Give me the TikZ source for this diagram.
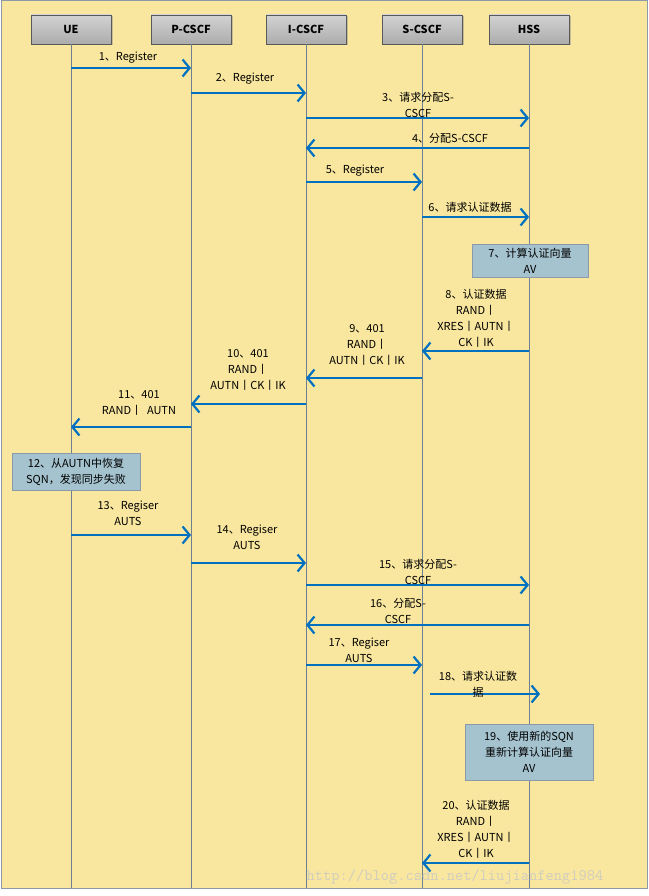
\documentclass[tikz,border=0pt]{standalone}
\usepackage{fontspec}
\setmainfont{Noto Sans CJK SC}
\usetikzlibrary{arrows.meta,shadows}
\definecolor{bg}{HTML}{F9E79F}
\definecolor{msgblue}{HTML}{0070C0}
\definecolor{boxblue}{HTML}{A5C3CF}
\definecolor{lifegray}{HTML}{6F7F92}
\tikzset{
  msg/.style={draw=msgblue,line width=2.6pt,-{Straight Barb[length=7pt,width=17pt,line width=2.2pt]}},
  lab/.style={font=\fontsize{11}{16}\selectfont,align=center,inner sep=0pt},
  head/.style={draw=gray!70!black,top color=gray!35,bottom color=gray!65,minimum width=80pt,minimum height=29pt,font=\bfseries\fontsize{11}{13}\selectfont,drop shadow={shadow xshift=1.5pt,shadow yshift=-1.5pt,opacity=0.4}},
  note/.style={draw=lifegray!80,fill=boxblue,align=center,font=\fontsize{11}{16}\selectfont,inner sep=2pt},
  life/.style={draw=lifegray,line width=0.6pt}
}
\begin{document}
\begin{tikzpicture}[x=1pt,y=-1pt]
\useasboundingbox (0,0) rectangle (648,896);
\fill[white] (0,0) rectangle (648,896);
\draw[fill=bg,draw=lifegray!80,line width=1pt] (1,1) rectangle (647,888);
\foreach \n/\x/\t in {ue/71/UE,pc/191/P-CSCF,ic/306/I-CSCF,sc/422/S-CSCF,hs/529/HSS}{
  \node[head] (\n) at (\x,29.5) {\t};
  \coordinate (\n b) at (\x,888);
  \draw[life] (\n.south) -- (\n b);
}
% messages
\newcommand{\msgline}[4]{\coordinate (#1s) at ($(#2.south)!0!(#2.south)$);}
\draw[msg] (ue|-0,68) -- (pc|-0,68);
\node[lab] at (128,58) {1、Register};
\draw[msg] (pc|-0,93) -- (ic|-0,93);
\node[lab] at (245,79) {2、Register};
\draw[msg] (ic|-0,118) -- (hs|-0,118);
\node[lab] at (418,105) {3、请求分配S-\\CSCF};
\draw[msg] (hs|-0,148) -- (ic|-0,148);
\node[lab] at (450,138) {4、分配S-CSCF};
\draw[msg] (ic|-0,182) -- (sc|-0,182);
\node[lab] at (355,171) {5、Register};
\draw[msg] (sc|-0,217) -- (hs|-0,217);
\node[lab] at (470,207) {6、请求认证数据};
\node[note,minimum width=116pt,minimum height=33pt] (n7) at (530,260.5) {7、计算认证向量\\AV};
\draw[msg] (hs|-0,351) -- (sc|-0,351);
\node[lab] at (476,318.5) {8、认证数据\\RAND丨\\XRES丨AUTN丨\\CK丨IK};
\draw[msg] (sc|-0,378) -- (ic|-0,378);
\node[lab] at (367,345) {9、401\\RAND丨\\AUTN丨CK丨IK};
\draw[msg] (ic|-0,404) -- (pc|-0,404);
\node[lab] at (248,369.5) {10、401\\RAND丨\\AUTN丨CK丨IK};
\draw[msg] (pc|-0,427) -- (ue|-0,427);
\node[lab] at (139,403) {11、401\\RAND丨\ \ AUTN};
\node[note,minimum width=128pt,minimum height=37pt] (n12) at (76,471.5) {12、从AUTN中恢复\\SQN，发现同步失败};
\draw[msg] (ue|-0,535) -- (pc|-0,535);
\node[lab] at (128,513.5) {13、Regiser\\AUTS};
\draw[msg] (pc|-0,563) -- (ic|-0,563);
\node[lab] at (247,537) {14、Regiser\\AUTS};
\draw[msg] (ic|-0,585) -- (hs|-0,585);
\node[lab] at (418,572) {15、请求分配S-\\CSCF};
\draw[msg] (hs|-0,625) -- (ic|-0,625);
\node[lab] at (398,611.5) {16、分配S-\\CSCF};
\draw[msg] (ic|-0,665) -- (sc|-0,665);
\node[lab] at (359,650) {17、Regiser\\AUTS};
\coordinate (s18) at (430,694);
\coordinate (e18) at (540,694);
\draw[msg] (s18) -- (e18);
\node[lab] at (478,684) {18、请求认证数\\据};
\node[note,minimum width=128pt,minimum height=56pt] (n19) at (529,752) {19、使用新的SQN\\重新计算认证向量\\AV};
\draw[msg] (hs|-0,863) -- (sc|-0,863);
\node[lab] at (476,829.5) {20、认证数据\\RAND丨\\XRES丨AUTN丨\\CK丨IK};
\node[font=\ttfamily\fontsize{16}{16}\selectfont,text=gray!45,opacity=0.8] (wm) at (455,877) {http://blog.csdn.net/liujianfeng1984};
\end{tikzpicture}
\end{document}
